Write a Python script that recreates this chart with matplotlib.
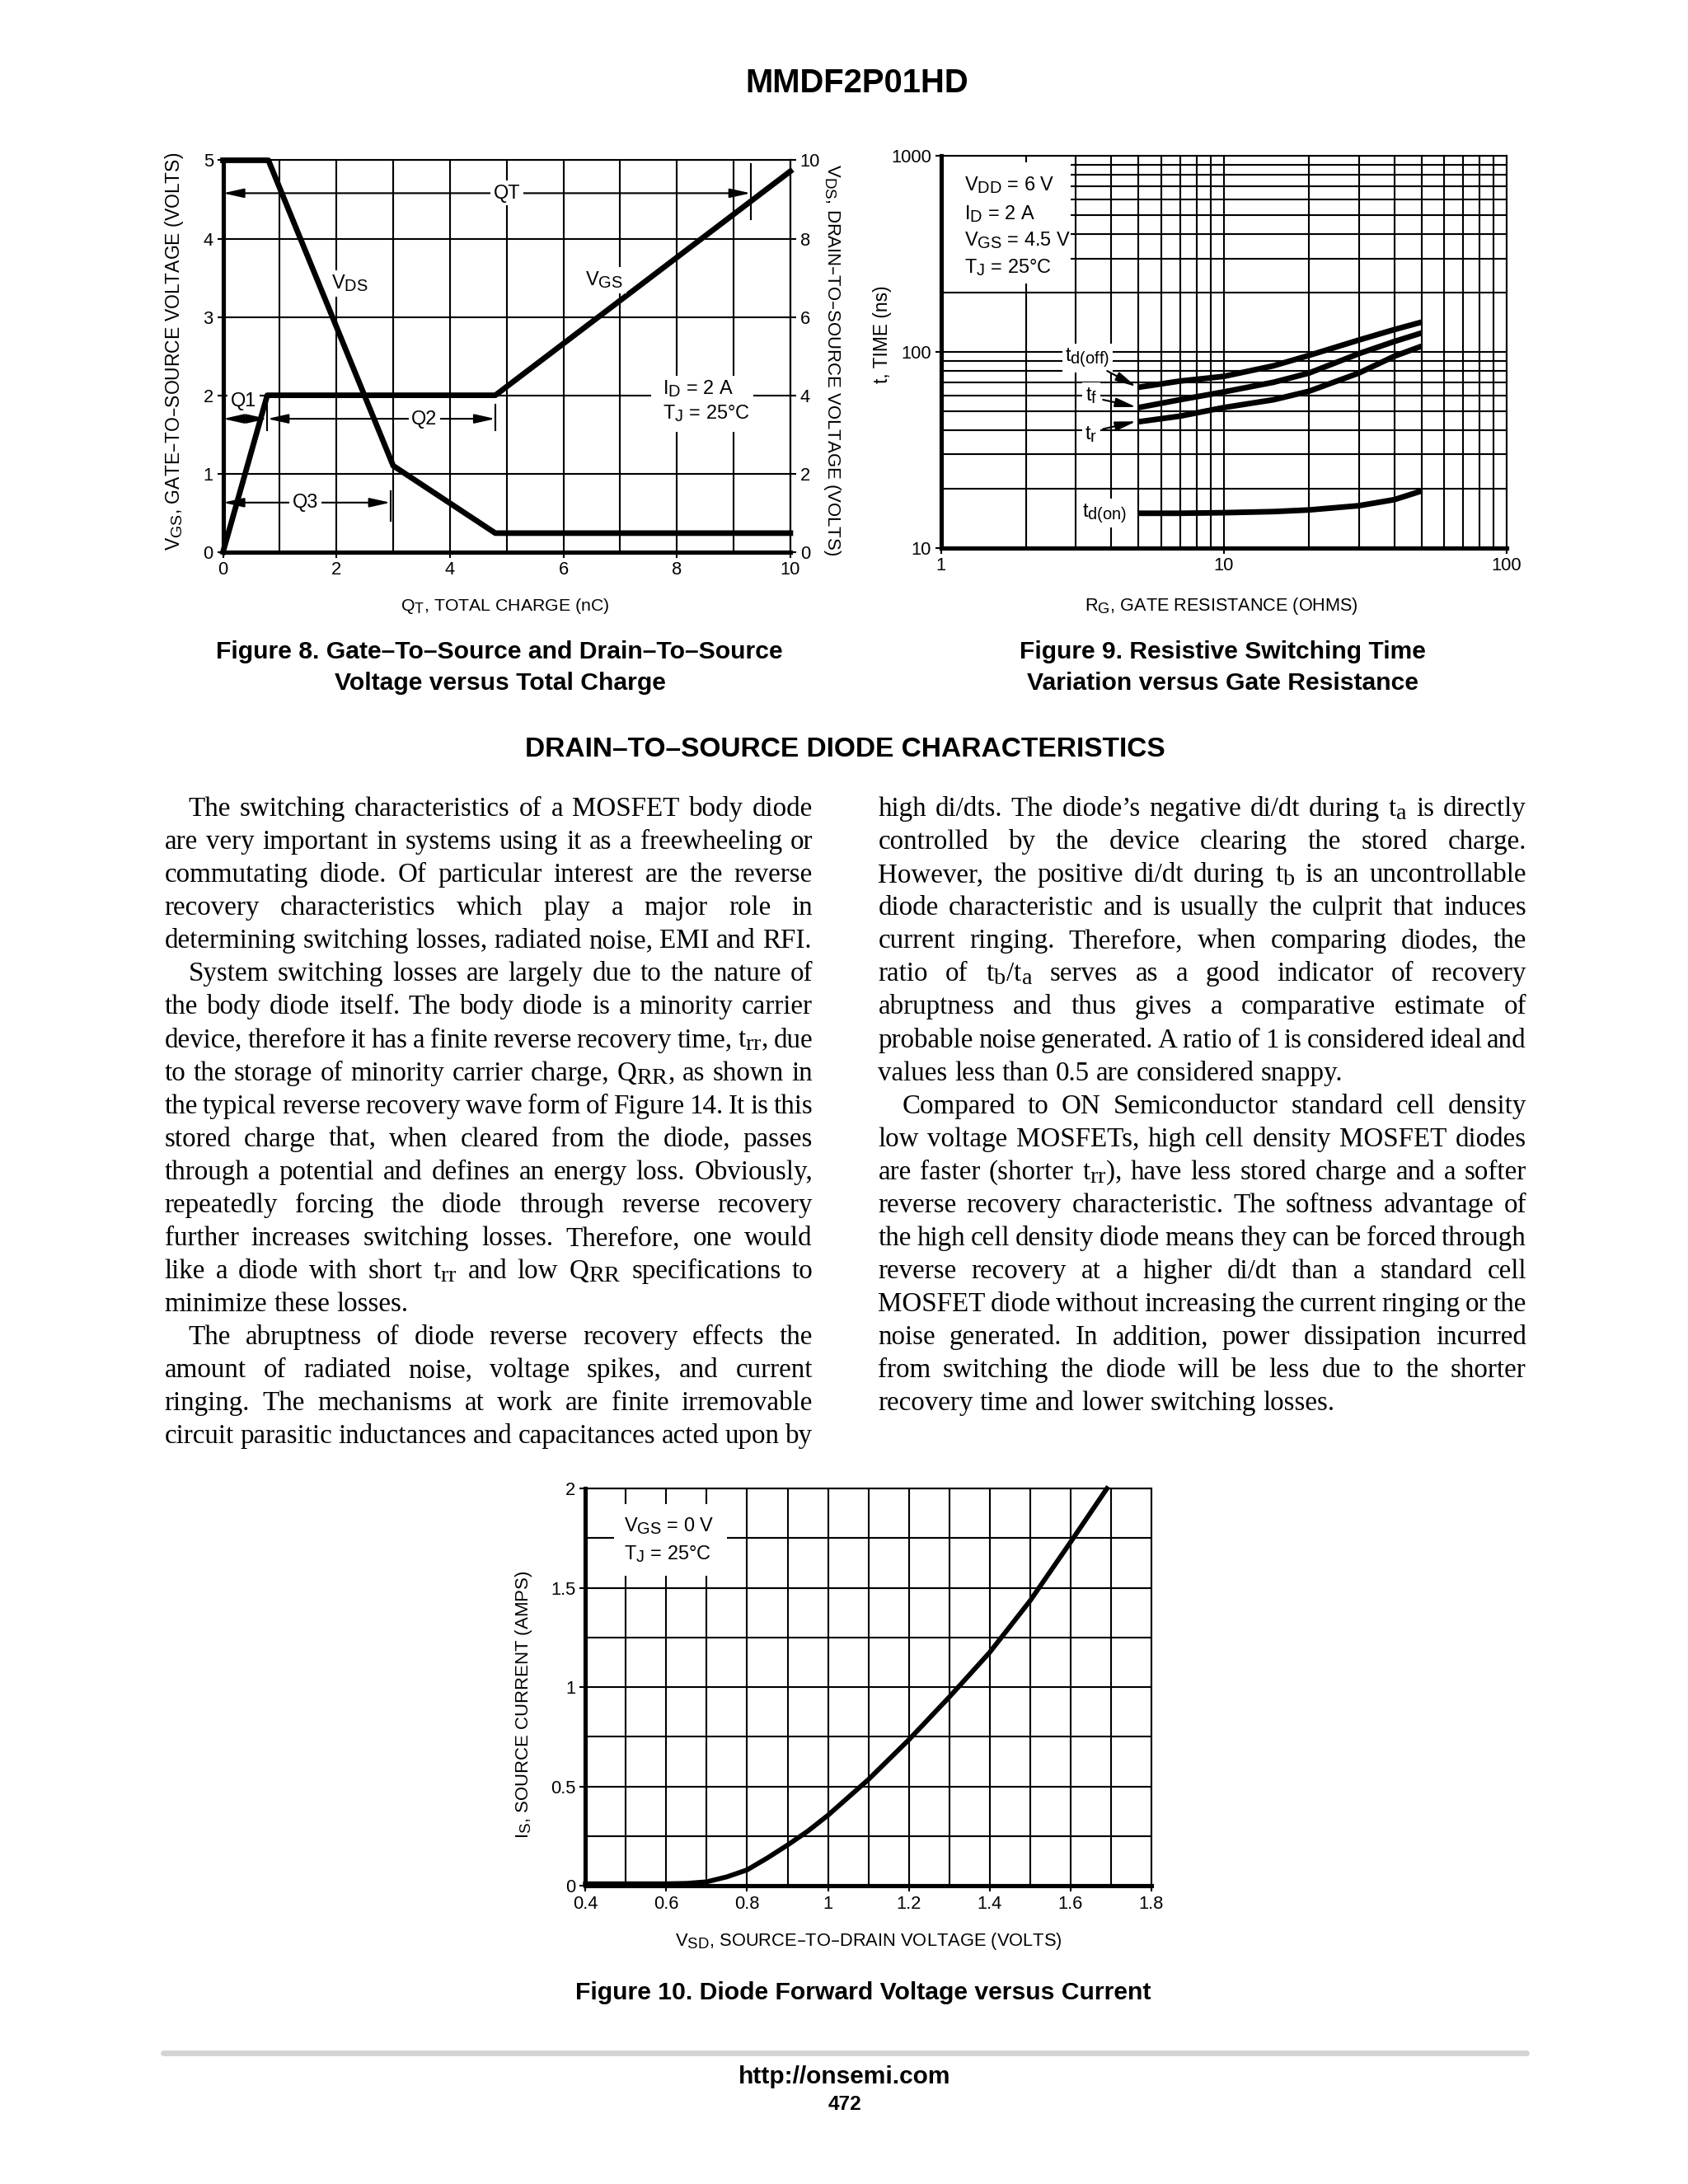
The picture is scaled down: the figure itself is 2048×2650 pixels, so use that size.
import matplotlib
matplotlib.use('Agg')
import matplotlib.pyplot as plt
from matplotlib.lines import Line2D
from matplotlib.patches import Rectangle
from matplotlib.ticker import NullFormatter

# Figure 8 - gate charge
qt_vgs = [0.0, 0.78, 4.8, 10.0]
vgs = [0.0, 2.0, 2.0, 4.86]
qt_vds = [0.0, 0.8, 3.0, 4.8, 10.0]
vds = [10.0, 10.0, 2.2, 0.48, 0.48]

# Figure 9 - switching time vs gate resistance
rg = [5, 7, 10, 15, 20, 30, 40, 50]
td_off = [66, 71, 75, 85, 96, 115, 130, 142]
t_f = [52, 57, 62.5, 70, 78, 98, 113, 125]
t_r = [44, 47, 52, 57, 63, 78, 95, 107]
td_on = [15.0, 15.0, 15.1, 15.3, 15.6, 16.4, 17.6, 19.5]

# Figure 10 - diode forward voltage
vsd = [0.4, 0.5, 0.6, 0.65, 0.7, 0.75, 0.8, 0.85, 0.9, 0.95, 1.0, 1.1, 1.2, 1.3, 1.4, 1.5, 1.6, 1.69]
i_s = [0.01, 0.01, 0.01, 0.012, 0.02, 0.045, 0.08, 0.14, 0.205, 0.275, 0.355, 0.535, 0.735, 0.95, 1.175, 1.435, 1.73, 2.0]

# body text (columns of paragraphs: indent first line, lines, paragraph ends)
left_col = [
    (True, ["The switching characteristics of a MOSFET body diode",
            "are very important in systems using it as a freewheeling or",
            "commutating diode. Of particular interest are the reverse",
            "recovery characteristics which play a major role in",
            "determining switching losses, radiated noise, EMI and RFI."], True),
    (True, ["System switching losses are largely due to the nature of",
            "the body diode itself. The body diode is a minority carrier",
            "device, therefore it has a finite reverse recovery time, $t_{rr}$, due",
            "to the storage of minority carrier charge, $Q_{RR}$, as shown in",
            "the typical reverse recovery wave form of Figure 14. It is this",
            "stored charge that, when cleared from the diode, passes",
            "through a potential and defines an energy loss. Obviously,",
            "repeatedly forcing the diode through reverse recovery",
            "further increases switching losses. Therefore, one would",
            "like a diode with short $t_{rr}$ and low $Q_{RR}$ specifications to",
            "minimize these losses."], True),
    (True, ["The abruptness of diode reverse recovery effects the",
            "amount of radiated noise, voltage spikes, and current",
            "ringing. The mechanisms at work are finite irremovable",
            "circuit parasitic inductances and capacitances acted upon by"], False),
]
right_col = [
    (False, ["high di/dts. The diode’s negative di/dt during $t_a$ is directly",
             "controlled by the device clearing the stored charge.",
             "However, the positive di/dt during $t_b$ is an uncontrollable",
             "diode characteristic and is usually the culprit that induces",
             "current ringing. Therefore, when comparing diodes, the",
             "ratio of $t_b/t_a$ serves as a good indicator of recovery",
             "abruptness and thus gives a comparative estimate of",
             "probable noise generated. A ratio of 1 is considered ideal and",
             "values less than 0.5 are considered snappy."], True),
    (True, ["Compared to ON Semiconductor standard cell density",
            "low voltage MOSFETs, high cell density MOSFET diodes",
            "are faster (shorter $t_{rr}$), have less stored charge and a softer",
            "reverse recovery characteristic. The softness advantage of",
            "the high cell density diode means they can be forced through",
            "reverse recovery at a higher di/dt than a standard cell",
            "MOSFET diode without increasing the current ringing or the",
            "noise generated. In addition, power dissipation incurred",
            "from switching the diode will be less due to the shorter",
            "recovery time and lower switching losses."], True),
]

SANS = 'Liberation Sans'
SERIF = 'Liberation Serif'
plt.rcParams['font.family'] = SANS
plt.rcParams['mathtext.default'] = 'regular'
# datasheet subscripts are almost full size
try:
    import matplotlib._mathtext as _mt
    _mt.SHRINK_FACTOR = 0.85
except Exception:
    pass

# page measured in reference pixels (1211 wide), saved at 2048 x 2650
W = 1211
H = W * 2650 / 2048
fig = plt.figure(figsize=(W / 100, H / 100), dpi=2048 / (W / 100))
fig.patch.set_facecolor('white')
R = fig.canvas.get_renderer()
SC = fig.dpi / 100


def ref_w(t):
    rot = t.get_rotation()
    t.set_rotation(0)
    w = t.get_window_extent(R).width / SC
    t.set_rotation(rot)
    return w


def fit(t, target):
    t.set_fontsize(t.get_fontsize() * target / ref_w(t))


def page_text(x, y, s, target=None, **kw):
    kw.setdefault('ha', 'center')
    kw.setdefault('va', 'center')
    t = fig.text(x / W, 1 - y / H, s, **kw)
    if target:
        fit(t, target)
    return t


TICK_FS = 9.3


def new_axes(l, t, r, b):
    ax = fig.add_axes([l / W, 1 - b / H, (r - l) / W, (b - t) / H])
    for s in ['left', 'bottom']:
        ax.spines[s].set_linewidth(2.2)
    for s in ['top', 'right']:
        ax.spines[s].set_linewidth(0.9)
    ax.tick_params(which='major', length=3, width=0.9, labelsize=TICK_FS, pad=2)
    ax.tick_params(which='minor', length=0)
    ax.set_axisbelow(True)
    return ax


box = dict(facecolor='white', edgecolor='none', pad=1.5)
arr2 = dict(arrowstyle='<|-|>,head_length=0.9,head_width=0.2', color='k', lw=0.9, shrinkA=0, shrinkB=0)
arr1 = dict(arrowstyle='-|>,head_length=0.9,head_width=0.2', color='k', lw=0.9, shrinkA=0, shrinkB=0)
FS = 10

# header
page_text(615, 60, 'MMDF2P01HD', 160, fontsize=17, fontweight='bold')

# ---------------- Figure 8 ----------------
ax8 = new_axes(160, 115, 567, 396)
ax8.set_xlim(0, 10)
ax8.set_ylim(0, 5)
ax8.set_xticks(range(0, 11, 2))
ax8.set_xticks(range(1, 11, 2), minor=True)
ax8.set_yticks(range(0, 6))
ax8.grid(True, which='both', axis='x', color='k', lw=0.9)
ax8.grid(True, which='major', axis='y', color='k', lw=0.9)
ax8.plot(qt_vgs, vgs, color='k', lw=2.9, clip_on=False, zorder=3)

ax8b = ax8.twinx()
ax8b.set_ylim(0, 10)
ax8b.set_yticks(range(0, 11, 2))
ax8b.tick_params(which='major', length=3, width=0.9, labelsize=TICK_FS, pad=2)
for s in ['left', 'bottom', 'top']:
    ax8b.spines[s].set_visible(False)
ax8b.spines['right'].set_linewidth(0.9)
ax8b.plot(qt_vds, vds, color='k', lw=2.9, clip_on=False, zorder=3)

# charge arrows
ax8.annotate('', xy=(9.3, 4.58), xytext=(0, 4.58), arrowprops=arr2, zorder=3)
ax8.plot([9.3, 9.3], [4.25, 4.95], color='k', lw=0.9)
ax8.annotate('', xy=(0.78, 1.70), xytext=(0, 1.70), arrowprops=arr2, zorder=3)
ax8.annotate('', xy=(4.8, 1.70), xytext=(0.78, 1.70), arrowprops=arr2, zorder=3)
ax8.plot([0.78, 0.78], [1.55, 1.88], color='k', lw=0.9)
ax8.plot([4.8, 4.8], [1.55, 1.88], color='k', lw=0.9)
ax8.annotate('', xy=(2.95, 0.63), xytext=(0, 0.63), arrowprops=arr2, zorder=3)
ax8.plot([2.95, 2.95], [0.40, 0.78], color='k', lw=0.9)
for x, y, s in [(5.0, 4.58, 'QT'), (0.36, 1.93, 'Q1'), (3.55, 1.70, 'Q2'), (1.45, 0.63, 'Q3'),
                (2.23, 3.43, '$V_{DS}$'), (6.72, 3.47, '$V_{GS}$')]:
    ax8.text(x, y, s, fontsize=FS, ha='center', va='center', bbox=box, zorder=4)
ax8.add_patch(Rectangle((7.55, 1.53), 1.8, 0.72, facecolor='white', edgecolor='none', zorder=1))
ax8.text(7.75, 2.08, '$I_D$ = 2 A', fontsize=FS, ha='left', va='center', zorder=4)
ax8.text(7.75, 1.77, '$T_J$ = 25°C', fontsize=FS, ha='left', va='center', zorder=4)

page_text(362, 435, '$Q_T$, TOTAL CHARGE (nC)', 150, fontsize=FS)
page_text(125, 252, '$V_{GS}$, GATE–TO–SOURCE VOLTAGE (VOLTS)', 287, fontsize=FS, rotation=90)
page_text(597, 258, '$V_{DS}$, DRAIN–TO–SOURCE VOLTAGE (VOLTS)', 282, fontsize=FS, rotation=-90)
page_text(358, 468, 'Figure 8. Gate–To–Source and Drain–To–Source', 407, fontsize=12, fontweight='bold')
page_text(359, 490, 'Voltage versus Total Charge', 238, fontsize=12, fontweight='bold')

# ---------------- Figure 9 ----------------
ax9 = new_axes(675, 112, 1081, 393)
ax9.set_xscale('log')
ax9.set_yscale('log')
ax9.set_xlim(1, 100)
ax9.set_ylim(10, 1000)
ax9.set_xticks([1, 10, 100], labels=['1', '10', '100'])
ax9.set_yticks([10, 100, 1000], labels=['10', '100', '1000'])
ax9.xaxis.set_minor_formatter(NullFormatter())
ax9.yaxis.set_minor_formatter(NullFormatter())
ax9.tick_params(which='minor', length=0)
ax9.grid(True, which='both', color='k', lw=0.9)
for series in [td_off, t_f, t_r, td_on]:
    ax9.plot(rg, series, color='k', lw=2.9, solid_capstyle='butt', zorder=3)

ax9.add_patch(Rectangle((1.0, 223), 1.87, 707, facecolor='white', edgecolor='none', zorder=1))
for y, s in [(708, '$V_{DD}$ = 6 V'), (509, '$I_D$ = 2 A'), (372, '$V_{GS}$ = 4.5 V'), (270, '$T_J$ = 25°C')]:
    ax9.text(1.21, y, s, fontsize=FS, ha='left', va='center', zorder=4)
for x, y, s in [(3.3, 93, '$t_{d(off)}$'), (3.4, 60, '$t_f$'), (3.4, 38, '$t_r$'), (3.8, 15, '$t_{d(on)}$')]:
    ax9.text(x, y, s, fontsize=FS, ha='center', va='center', bbox=box, zorder=4)
ax9.annotate('', xy=(4.9, 66.5), xytext=(3.87, 80), arrowprops=arr1, zorder=4)
ax9.annotate('', xy=(4.9, 52.3), xytext=(3.74, 57), arrowprops=arr1, zorder=4)
ax9.annotate('', xy=(4.9, 44.2), xytext=(3.74, 40.4), arrowprops=arr1, zorder=4)

page_text(633, 240, 't, TIME (ns)', 70, fontsize=FS, rotation=90)
page_text(876, 435, '$R_G$, GATE RESISTANCE (OHMS)', 197, fontsize=FS)
page_text(877, 468, 'Figure 9. Resistive Switching Time', 291, fontsize=12, fontweight='bold')
page_text(877, 490, 'Variation versus Gate Resistance', 281, fontsize=12, fontweight='bold')

# section heading
page_text(606, 538, 'DRAIN–TO–SOURCE DIODE CHARACTERISTICS', 459, fontsize=13, fontweight='bold')

# ---------------- body text ----------------
BODY_Y0, BODY_DY = 585.5, 23.68
cal = fig.text(0, 0, 'determining switching losses, radiated noise, EMI and RFI.', fontsize=10, family=SERIF)
fit(cal, 465)
BODY_FS = cal.get_fontsize()
cal.remove()


def column(x0, x1, paras):
    row = 0
    space = BODY_FS * 0.25 / 0.72
    for indent, lines, ends in paras:
        for k, line in enumerate(lines):
            start = x0 + (17 if (indent and k == 0) else 0)
            last = ends and k == len(lines) - 1
            words = line.split(' ')
            ts = [fig.text(0, 0, wd, fontsize=BODY_FS, family=SERIF, va='baseline') for wd in words]
            ws = [ref_w(t) for t in ts]
            gap = space if last else (x1 - start - sum(ws)) / max(len(words) - 1, 1)
            x = start
            yb = BODY_Y0 + row * BODY_DY
            for t, wd in zip(ts, ws):
                t.set_position((x / W, 1 - yb / H))
                x += wd + gap
            row += 1


column(118, 583, left_col)
column(630, 1095, right_col)

# ---------------- Figure 10 ----------------
ax10 = new_axes(420, 1068, 826, 1353)
ax10.set_xlim(0.4, 1.8)
ax10.set_ylim(0, 2)
ax10.set_xticks([0.4, 0.6, 0.8, 1.0, 1.2, 1.4, 1.6, 1.8],
                labels=['0.4', '0.6', '0.8', '1', '1.2', '1.4', '1.6', '1.8'])
ax10.set_xticks([0.5, 0.7, 0.9, 1.1, 1.3, 1.5, 1.7], minor=True)
ax10.set_yticks([0, 0.5, 1, 1.5, 2], labels=['0', '0.5', '1', '1.5', '2'])
ax10.set_yticks([0.25, 0.75, 1.25, 1.75], minor=True)
ax10.grid(True, which='both', color='k', lw=0.9)
ax10.plot(vsd, i_s, color='k', lw=2.5, clip_on=False, zorder=3)
ax10.add_patch(Rectangle((0.47, 1.56), 0.28, 0.36, facecolor='white', edgecolor='none', zorder=1))
ax10.text(0.495, 1.81, '$V_{GS}$ = 0 V', fontsize=FS, ha='left', va='center', zorder=4)
ax10.text(0.495, 1.67, '$T_J$ = 25°C', fontsize=FS, ha='left', va='center', zorder=4)

page_text(376, 1223, '$I_S$, SOURCE CURRENT (AMPS)', 192, fontsize=FS, rotation=90)
page_text(623, 1393, '$V_{SD}$, SOURCE–TO–DRAIN VOLTAGE (VOLTS)', 279, fontsize=FS)
page_text(619, 1430, 'Figure 10. Diode Forward Voltage versus Current', 413, fontsize=12, fontweight='bold')

# footer
fig.add_artist(Line2D([117 / W, 1095 / W], [1 - 1473 / H, 1 - 1473 / H], lw=2.9,
                      color='#d4d4d4', solid_capstyle='round'))
page_text(606, 1490, 'http://onsemi.com', 152, fontsize=12, fontweight='bold')
page_text(606, 1510, '472', 24, fontsize=9, fontweight='bold')

fig.savefig('out.png', dpi=fig.dpi, facecolor='white')
